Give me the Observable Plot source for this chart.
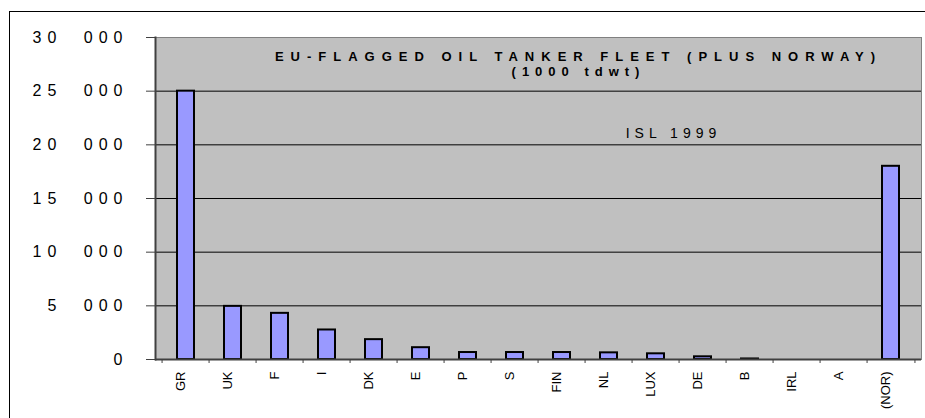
<!DOCTYPE html>
<html>
<head>
<meta charset="utf-8">
<script src="https://cdn.jsdelivr.net/npm/d3@7"></script>
<script src="https://cdn.jsdelivr.net/npm/@observablehq/plot@0.6"></script>
<style>
  html, body { margin: 0; padding: 0; background: #fff; }
  #wrap { position: relative; width: 925px; height: 418px; overflow: hidden; }
  #border { position: absolute; left: 9px; top: 11px; width: 2000px; height: 2000px;
            border-left: 1px solid #000; border-top: 1px solid #000; pointer-events: none; }
  #chart svg { font-family: Arial, "Liberation Sans", sans-serif; display: block; }
  g[aria-label="y-axis tick label"] text { letter-spacing: 6px; word-spacing: 11px; }
</style>
</head>
<body>
<div id="wrap"><div id="chart"></div><div id="border"></div></div>
<script>
// ---- data ----
const countries = ["GR", "UK", "F", "I", "DK", "E", "P", "S", "FIN", "NL", "LUX", "DE", "B", "IRL", "A", "(NOR)"];
const fleet = [25000, 4950, 4300, 2750, 1850, 1100, 650, 650, 650, 620, 530, 250, 50, 0, 0, 18000];
const yTicks = [0, 5000, 10000, 15000, 20000, 25000, 30000];
const gridValues = [5000, 10000, 15000, 20000, 25000];
const titleLine = "EU-FLAGGED OIL TANKER FLEET (PLUS NORWAY)";
const unitLine = "(1000 tdwt)";
const sourceLine = "ISL 1999";

const rows = countries.map((c, i) => ({country: c, value: fleet[i]}));

const W = 925, H = 418, mL = 155, mR = 4, mT = 37, mB = 59;
const bw = (W - mL - mR) / countries.length;
const fmt = d => d3.format(",")(d).replace(/,/g, " ");

const chart = Plot.plot({
  width: W,
  height: H,
  marginLeft: mL,
  marginRight: mR,
  marginTop: mT,
  marginBottom: mB,
  style: {fontFamily: "Arial, 'Liberation Sans', sans-serif", background: "transparent"},
  x: {type: "band", domain: countries, padding: 0, label: null},
  y: {domain: [0, 30000], label: null},
  marks: [
    Plot.frame({fill: "#c0c0c0", stroke: "none"}),
    Plot.ruleY(gridValues, {stroke: "#000", strokeWidth: 1}),
    Plot.barY(rows, {x: "country", y: "value", fill: "#9999ff", stroke: "#000", strokeWidth: 2,
                     insetLeft: 15, insetRight: 15}),
    Plot.frame({stroke: "#808080", strokeWidth: 1}),
    Plot.ruleY([0], {stroke: "#404040", strokeWidth: 2}),
    Plot.frame({anchor: "left", stroke: "#404040", strokeWidth: 2}),
    // category boundary ticks
    Plot.ruleX(countries, {x: d => d, dx: -bw / 2, y1: 0, y2: 0, insetBottom: -4, stroke: "#404040"}),
    Plot.ruleX([countries[countries.length - 1]], {x: d => d, dx: bw / 2, y1: 0, y2: 0, insetBottom: -4, stroke: "#404040"}),
    Plot.axisY({ticks: yTicks, tickSize: 9, tickPadding: 18, tickFormat: fmt, fontSize: 16,
                stroke: "#404040", fill: "#000", label: null}),
    Plot.axisX({tickSize: 0, tickPadding: 12, tickRotate: -90, fontSize: 13, fill: "#000", label: null, dx: -5}),
    Plot.text([titleLine], {text: d => d, frameAnchor: "top", lineAnchor: "bottom", dx: 40, dy: 23,
                            fontWeight: "bold", fontSize: 13, fill: "#000"}),
    Plot.text([unitLine], {text: d => d, frameAnchor: "top", lineAnchor: "bottom", dx: 40, dy: 38,
                           fontWeight: "bold", fontSize: 13, fill: "#000"}),
    Plot.text([sourceLine], {text: d => d, frameAnchor: "top", lineAnchor: "bottom", dx: 135, dy: 100,
                             fontSize: 14, fill: "#000"})
  ]
});
// letter-spaced headings as in the original
const spacing = new Map([[titleLine, "7px"], [unitLine, "6px"], [sourceLine, "5px"]]);
d3.select(chart).selectAll("text").each(function () {
  const t = this.textContent;
  if (spacing.has(t)) this.style.letterSpacing = spacing.get(t);
});
document.getElementById("chart").appendChild(chart);
</script>
</body>
</html>
